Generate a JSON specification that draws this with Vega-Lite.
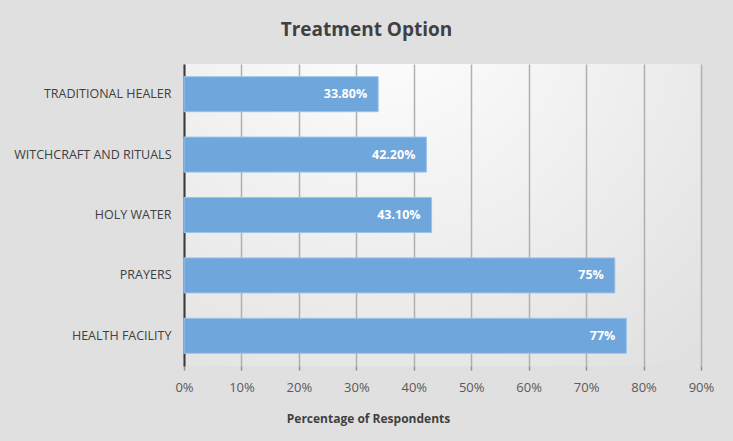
{
  "$schema": "https://vega.github.io/schema/vega-lite/v6.json",
  "autosize": "none",
  "width": 517,
  "height": 302,
  "padding": {"left": 184, "top": 64, "right": 32, "bottom": 75},
  "background": "#e0e0e0",
  "title": {
    "text": "Treatment Option",
    "anchor": "middle",
    "dx": -76,
    "offset": 24,
    "font": "Open Sans",
    "fontSize": 19,
    "fontWeight": "bold",
    "color": "#404040"
  },
  "data": {
    "values": [
      {"option": "TRADITIONAL HEALER", "value": 0.338, "label": "33.80%"},
      {"option": "WITCHCRAFT AND RITUALS", "value": 0.422, "label": "42.20%"},
      {"option": "HOLY WATER", "value": 0.431, "label": "43.10%"},
      {"option": "PRAYERS", "value": 0.75, "label": "75%"},
      {"option": "HEALTH FACILITY", "value": 0.77, "label": "77%"}
    ]
  },
  "encoding": {
    "y": {
      "field": "option",
      "type": "nominal",
      "sort": null,
      "scale": {"paddingInner": 0.42, "paddingOuter": 0.21},
      "axis": {
        "title": null,
        "ticks": false,
        "labelPadding": 13,
        "labelFont": "Open Sans",
        "labelFontSize": 12.5,
        "labelColor": "#404040",
        "domainColor": "#3a3a3a",
        "domainWidth": 2
      }
    },
    "x": {
      "field": "value",
      "type": "quantitative",
      "scale": {"domain": [0, 0.9], "nice": false},
      "axis": {
        "format": ".0%",
        "values": [0, 0.1, 0.2, 0.3, 0.4, 0.5, 0.6, 0.7, 0.8, 0.9],
        "labelOverlap": false,
        "labelFlush": false,
        "title": "Percentage of Respondents",
        "titleX": 184,
        "titleY": 47,
        "titleFont": "Open Sans",
        "titleFontSize": 12,
        "titleFontWeight": "bold",
        "titleColor": "#404040",
        "labelFont": "Open Sans",
        "labelFontSize": 13,
        "labelColor": "#595959",
        "labelPadding": 11,
        "domain": false,
        "grid": true,
        "gridColor": "#b0b0b0",
        "gridWidth": 1.5,
        "tickColor": "#909090",
        "tickSize": 4,
        "tickWidth": 1.5
      }
    }
  },
  "layer": [
    {
      "mark": {"type": "bar", "color": "#6fa6dc", "stroke": "#9cc3ea", "strokeWidth": 1}
    },
    {
      "mark": {
        "type": "text",
        "align": "right",
        "dx": -11,
        "color": "white",
        "font": "Open Sans",
        "fontSize": 12.5,
        "fontWeight": "bold"
      },
      "encoding": {"text": {"field": "label"}}
    }
  ],
  "config": {
    "view": {
      "stroke": null,
      "fill": {
        "gradient": "radial",
        "x1": 0.4, "y1": 0.1, "x2": 0.4, "y2": 0.1, "r1": 0, "r2": 0.9,
        "stops": [
          {"offset": 0, "color": "#ffffff"},
          {"offset": 1, "color": "#e0e0e0"}
        ]
      }
    }
  }
}
